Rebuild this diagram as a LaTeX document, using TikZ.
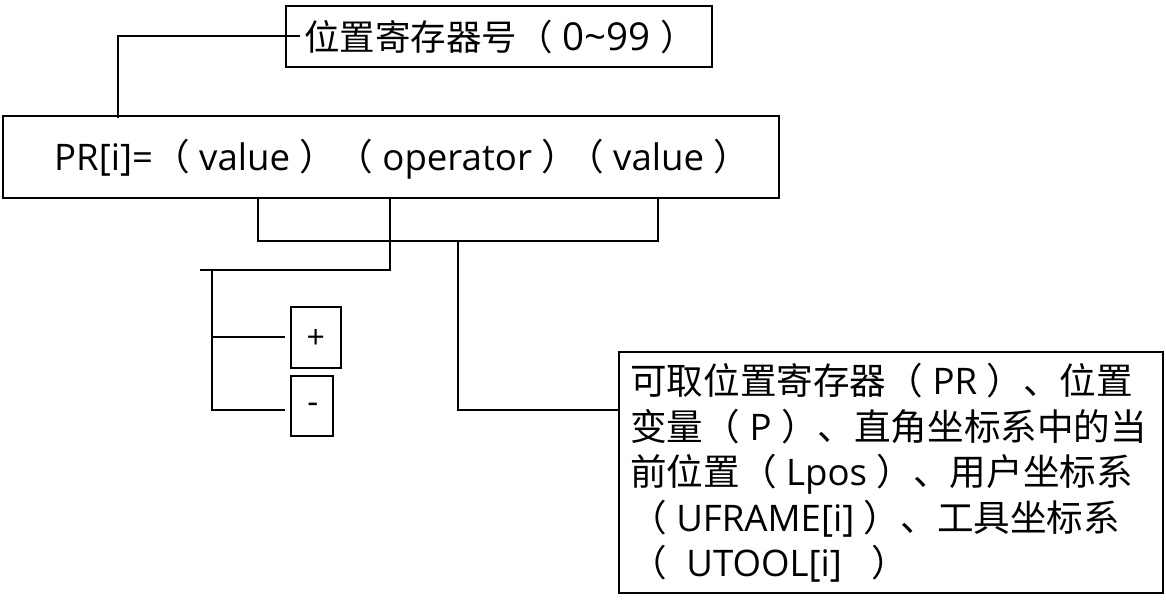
\documentclass[tikz,border=0pt]{standalone}
\usepackage{fontspec}
\setmainfont{Open Sans}
\newfontfamily\cjk{Noto Sans CJK SC}
\newcommand{\C}[1]{{\cjk #1}}
\begin{document}
\begin{tikzpicture}[x=1pt,y=-1pt,
  box/.style={draw,line width=1.7pt,inner sep=0pt},
  wire/.style={line width=2.8pt}]
\useasboundingbox (0,0) rectangle (1166,607);
% boxes
\node[box,minimum width=426,minimum height=61,anchor=north west] (top) at (285,5) {};
\node[anchor=west,inner sep=0pt,font=\fontsize{35.5}{40}\selectfont] (toptxt) at (304,37) {\C{位置寄存器号（}{\fontsize{38.5}{40}\selectfont\ 0\textasciitilde 99 }\C{）}};
\node[box,minimum width=776,minimum height=82,anchor=north west] (main) at (2,115) {};
\node[anchor=west,inner sep=0pt,font=\fontsize{36.6}{40}\selectfont] (maintxt) at (54,159) {PR[i]=\C{（} value \C{）}\C{（} operator \C{）}\kern-0.3em\C{（} value \C{）}};
\node[box,minimum width=50,minimum height=61,anchor=north west] (plus) at (290,306) {};
\node[font=\fontsize{32}{32}\selectfont,inner sep=0pt] at ([yshift=-2pt]plus.center) {+};
\node[box,minimum width=42,minimum height=60,anchor=north west] (minus) at (290,375) {};
\node[font=\fontsize{34}{34}\selectfont,inner sep=0pt] at ([xshift=1pt,yshift=-2pt]minus.center) {-};
\node[box,minimum width=544,minimum height=241,anchor=north west] (desc) at (618,351) {};
\node[anchor=north west,inner sep=0pt,align=left,font=\fontsize{36.6}{45.5}\selectfont] (desctxt) at (630,363) {\C{可取位置寄存器（} PR \C{）、位置}\\\C{变量（} P \C{）、直角坐标系中的当}\\\C{前位置（} Lpos \C{）、用户坐标系}\\\C{（} UFRAME[i] \C{）、工具坐标系}\\\C{（} \;UTOOL[i] \; \C{）}};
% coordinates
\coordinate (a1) at (118,118);
\coordinate (a2) at (300,36);
\coordinate (v1) at (258,197);
\coordinate (v2) at (658,197);
\coordinate (op) at (390,197);
\coordinate (mid) at (458,241);
\coordinate (dl) at (620,410);
\coordinate (b0) at (200,270);
\coordinate (b1) at (212,270);
\coordinate (pl) at (285,337);
\coordinate (mi) at (285,410);
% wires
\draw[wire] (a1) |- (a2);
\draw[wire] (v1) -- (258,241) -- (658,241) -- (v2);
\draw[wire] (mid) |- (dl);
\draw[wire] (op) |- (b0);
\draw[wire] (b1) |- (mi);
\draw[wire] (212,337) -- (pl);
\end{tikzpicture}
\end{document}
